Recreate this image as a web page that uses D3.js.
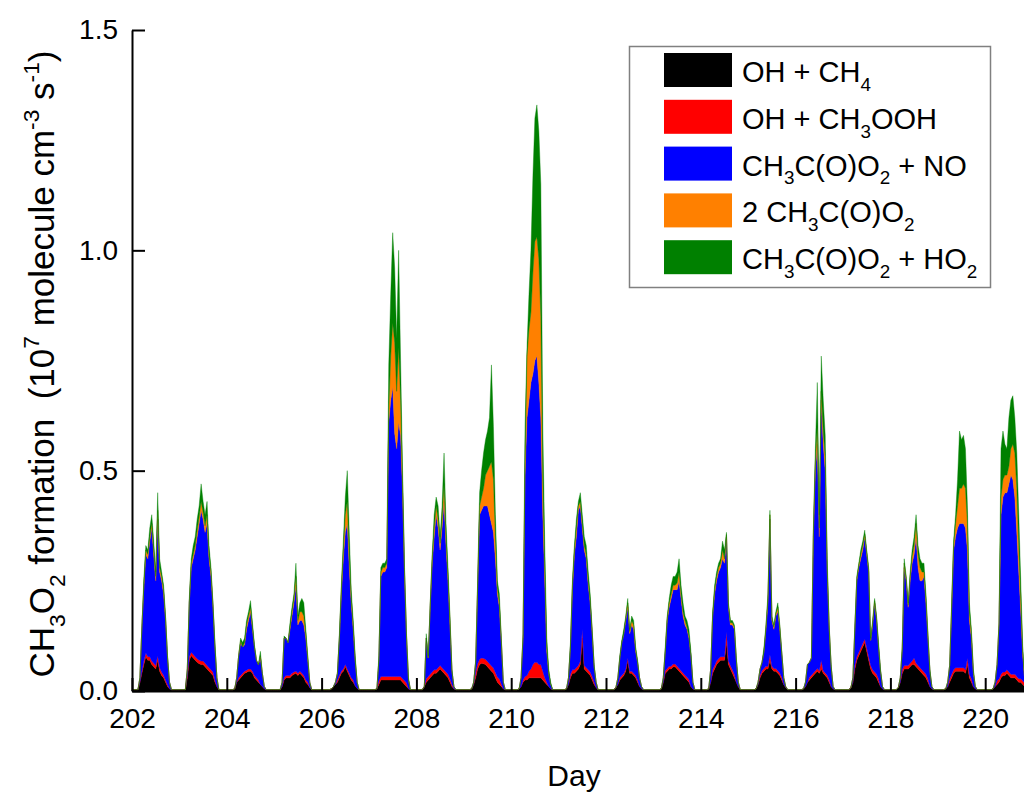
<!DOCTYPE html>
<html>
<head>
<meta charset="utf-8">
<script src="https://cdn.jsdelivr.net/npm/d3@7"></script>
<style>
  body { margin: 0; background: #fff; }
  text { font-family: Arial, "Liberation Sans", sans-serif; fill: #000; white-space: pre; }
</style>
</head>
<body>
<div id="chart"></div>
<script>
// one row per day, 24 hourly values, in 10^7 molecule cm-3 s-1
const days = d3.range(202, 221);

const ohCh4 = [
  [.003,.003,.003,.003,.02,.04,.06,.078,.07,.07,.06,.055,.05,.07,.045,.035,.03,.02,.01,.005,.003,.003,.003,.003],
  [.003,.003,.003,.003,.03,.07,.08,.075,.07,.065,.062,.06,.06,.055,.05,.045,.04,.035,.02,.01,.003,.003,.003,.003],
  [.003,.003,.003,.003,.005,.02,.025,.03,.035,.04,.042,.045,.045,.04,.03,.025,.02,.015,.01,.005,.003,.003,.003,.003],
  [.003,.003,.003,.003,.01,.025,.03,.03,.03,.035,.038,.04,.035,.04,.035,.03,.02,.015,.008,.003,.003,.003,.003,.003],
  [.003,.003,.003,.003,.003,.005,.01,.015,.02,.03,.04,.045,.055,.045,.035,.025,.02,.012,.006,.003,.003,.003,.003,.003],
  [.003,.003,.003,.003,.005,.015,.025,.025,.025,.025,.025,.025,.025,.025,.025,.025,.025,.02,.015,.01,.005,.003,.003,.003],
  [.003,.003,.003,.003,.01,.02,.025,.03,.035,.04,.04,.045,.05,.045,.04,.035,.03,.02,.01,.005,.003,.003,.003,.003],
  [.003,.003,.003,.003,.005,.015,.03,.05,.06,.063,.062,.06,.055,.05,.045,.04,.03,.02,.015,.01,.005,.003,.003,.003],
  [.003,.003,.003,.003,.005,.01,.02,.025,.025,.03,.03,.03,.03,.03,.03,.03,.025,.02,.015,.01,.005,.003,.003,.003],
  [.003,.003,.003,.003,.005,.015,.03,.04,.04,.045,.05,.06,.12,.05,.045,.04,.035,.025,.015,.008,.003,.003,.003,.003],
  [.003,.003,.003,.003,.003,.008,.015,.025,.03,.035,.045,.07,.04,.04,.035,.03,.02,.01,.005,.003,.003,.003,.003,.003],
  [.003,.003,.003,.003,.005,.02,.04,.045,.05,.05,.055,.055,.05,.045,.04,.035,.03,.025,.02,.01,.005,.003,.003,.003],
  [.003,.003,.003,.003,.005,.02,.04,.05,.06,.065,.07,.07,.07,.11,.06,.05,.04,.03,.02,.01,.003,.003,.003,.003],
  [.003,.003,.003,.003,.005,.015,.03,.04,.045,.05,.05,.07,.05,.045,.045,.04,.035,.025,.015,.008,.003,.003,.003,.003],
  [.003,.003,.003,.003,.005,.01,.02,.025,.03,.035,.04,.045,.04,.05,.04,.035,.03,.02,.01,.005,.003,.003,.003,.003],
  [.003,.003,.003,.003,.008,.02,.05,.07,.08,.09,.1,.11,.09,.07,.05,.04,.035,.03,.02,.01,.005,.003,.003,.003],
  [.003,.003,.003,.003,.008,.02,.04,.05,.05,.05,.055,.06,.06,.055,.05,.045,.04,.035,.03,.02,.01,.005,.003,.003],
  [.003,.003,.003,.003,.005,.01,.02,.03,.04,.045,.045,.045,.045,.045,.04,.06,.03,.02,.01,.005,.003,.003,.003,.003],
  [.003,.003,.003,.003,.005,.01,.015,.02,.03,.035,.035,.04,.035,.03,.03,.03,.025,.02,.02,.015,.01,.005,.005,.005]
];

const ohCh3ooh = [
  [0,0,0,0,0,.005,.008,.008,.008,.008,.008,.008,.008,.01,.008,.008,.006,.005,.004,0,0,0,0,0],
  [0,0,0,0,.005,.008,.008,.008,.008,.008,.008,.008,.008,.008,.008,.008,.008,.008,.005,0,0,0,0,0],
  [0,0,0,0,0,0,.005,.005,.005,.005,.005,.005,.005,.005,.005,.005,.005,0,0,0,0,0,0,0],
  [0,0,0,0,0,.005,.005,.005,.005,.005,.005,.005,.005,.005,.005,.005,.005,.005,0,0,0,0,0,0],
  [0,0,0,0,0,0,0,0,.005,.005,.005,.005,.005,.005,.005,.005,.005,0,0,0,0,0,0,0],
  [0,0,0,0,0,.008,.008,.008,.008,.008,.008,.008,.008,.008,.008,.008,.008,.008,.008,.008,0,0,0,0],
  [0,0,0,0,0,.008,.008,.008,.008,.008,.008,.008,.008,.008,.008,.008,.008,.008,.005,0,0,0,0,0],
  [0,0,0,0,0,0,.012,.012,.012,.012,.012,.012,.012,.012,.012,.012,.012,.012,.012,.006,0,0,0,0],
  [0,0,0,0,0,0,.005,.008,.01,.015,.02,.03,.035,.035,.03,.03,.02,.01,.005,0,0,0,0,0],
  [0,0,0,0,0,0,.008,.008,.008,.008,.008,.008,.02,.008,.008,.008,.008,.008,.005,0,0,0,0,0],
  [0,0,0,0,0,0,0,.005,.005,.005,.005,.005,.005,.005,.005,.005,.005,0,0,0,0,0,0,0],
  [0,0,0,0,0,0,.006,.006,.006,.006,.006,.006,.006,.006,.006,.006,.006,.006,.006,0,0,0,0,0],
  [0,0,0,0,0,0,.008,.008,.008,.008,.008,.008,.008,.025,.008,.008,.008,.008,0,0,0,0,0,0],
  [0,0,0,0,0,0,.006,.006,.006,.006,.006,.012,.006,.006,.006,.006,.006,.006,0,0,0,0,0,0],
  [0,0,0,0,0,0,0,.006,.006,.006,.006,.006,.006,.02,.006,.006,.006,.006,0,0,0,0,0,0],
  [0,0,0,0,0,0,.008,.008,.008,.008,.008,.008,.008,.008,.008,.008,.008,.008,.008,0,0,0,0,0],
  [0,0,0,0,0,0,.008,.008,.008,.008,.008,.008,.015,.008,.008,.008,.008,.008,.008,.008,0,0,0,0],
  [0,0,0,0,0,0,.008,.008,.008,.008,.008,.008,.008,.008,.008,.015,.008,.008,0,0,0,0,0,0],
  [0,0,0,0,0,0,.008,.008,.008,.008,.008,.008,.008,.008,.008,.008,.008,.008,.008,.008,.008,0,0,0]
];

const acylNo = [
  [0,0,0,0,.01,.1,.167,.224,.222,.262,.302,.247,.192,.31,.217,.207,.184,.135,.061,.015,0,0,0,0],
  [0,0,0,0,.015,.122,.192,.217,.242,.277,.31,.342,.322,.297,.322,.247,.212,.147,.075,.02,0,0,0,0],
  [0,0,0,0,0,.01,.05,.075,.06,.06,.093,.11,.13,.095,.065,.04,.035,.06,.03,.005,0,0,0,0],
  [0,0,0,0,.01,.09,.085,.075,.105,.13,.157,.195,.11,.115,.12,.115,.095,.05,.012,0,0,0,0,0],
  [0,0,0,0,0,0,0,.005,.015,.085,.175,.25,.3,.33,.24,.17,.115,.058,.014,0,0,0,0,0],
  [0,0,0,0,0,.047,.227,.237,.237,.247,.577,.627,.657,.552,.517,.577,.547,.422,.237,.102,.02,0,0,0],
  [0,0,0,0,0,.092,.042,.152,.247,.302,.352,.317,.262,.317,.382,.287,.212,.122,.03,.005,0,0,0,0],
  [0,0,0,0,0,.005,.023,.168,.328,.335,.346,.348,.353,.338,.323,.308,.258,.188,.163,.094,.015,0,0,0],
  [0,0,0,0,0,.02,.095,.457,.585,.615,.65,.66,.685,.695,.64,.56,.355,.22,.07,.03,.01,0,0,0],
  [0,0,0,0,0,.015,.062,.182,.262,.297,.352,.352,.23,.262,.247,.192,.157,.097,.035,.012,0,0,0,0],
  [0,0,0,0,0,0,.015,.045,.075,.09,.11,.115,.085,.105,.1,.055,.04,.02,.005,0,0,0,0,0],
  [0,0,0,0,0,.01,.044,.109,.134,.154,.169,.169,.174,.199,.164,.129,.114,.109,.094,.07,.015,0,0,0],
  [0,0,0,0,0,.03,.122,.162,.182,.197,.202,.222,.212,.215,.122,.092,.102,.102,.05,.01,0,0,0,0],
  [0,0,0,0,0,.005,.014,.019,.039,.084,.144,.308,.104,.089,.119,.134,.099,.054,.015,.002,0,0,0,0],
  [0,0,0,0,0,.01,.04,.034,.039,.309,.454,.509,.304,.59,.514,.459,.234,.114,.045,.005,0,0,0,0],
  [0,0,0,0,0,.01,.082,.172,.192,.202,.212,.232,.212,.192,.057,.102,.157,.122,.072,.035,.005,0,0,0],
  [0,0,0,0,0,.01,.047,.222,.192,.132,.187,.222,.235,.287,.222,.197,.202,.217,.162,.092,.035,.005,0,0],
  [0,0,0,0,0,.01,.03,.142,.272,.297,.317,.327,.327,.327,.322,.245,.122,.092,.03,.005,0,0,0,0],
  [0,0,0,0,0,.01,.037,.122,.362,.397,.407,.402,.427,.452,.442,.402,.327,.242,.152,.057,.007,0,0,0]
];

const acylAcyl = [
  [0,0,0,0,0,0,.005,.01,.01,.01,.01,.01,.01,.02,.01,.01,.01,.005,0,0,0,0,0,0],
  [0,0,0,0,0,0,.01,.01,.01,.015,.015,.02,.015,.015,.02,.01,.01,.005,0,0,0,0,0,0],
  [0,0,0,0,0,0,0,.005,0,.005,.01,.01,.01,.005,0,0,0,.005,0,0,0,0,0,0],
  [0,0,0,0,0,0,0,0,.005,.01,.01,.02,.01,.02,.02,.02,.01,.005,0,0,0,0,0,0],
  [0,0,0,0,0,0,0,0,0,0,.01,.02,.04,.05,.03,.01,.01,0,0,0,0,0,0,0],
  [0,0,0,0,0,0,.01,.01,.01,.01,.03,.1,.145,.205,.13,.17,.08,.02,.01,.005,0,0,0,0],
  [0,0,0,0,0,0,0,.005,.01,.02,.02,.02,.015,.02,.04,.02,.01,.01,0,0,0,0,0,0],
  [0,0,0,0,0,0,0,.01,.02,.03,.04,.07,.08,.11,.14,.12,.05,.015,.01,.005,0,0,0,0],
  [0,0,0,0,0,0,.005,.03,.14,.16,.16,.23,.27,.27,.28,.23,.08,.03,.01,0,0,0,0,0],
  [0,0,0,0,0,0,0,.01,.01,.02,.01,.01,.01,.01,.01,.01,.005,.005,0,0,0,0,0,0],
  [0,0,0,0,0,0,0,0,0,0,.005,.01,.005,.01,.01,.005,0,0,0,0,0,0,0,0],
  [0,0,0,0,0,0,0,.005,.01,.01,.01,.01,.015,.02,.01,.01,.01,.005,.005,0,0,0,0,0],
  [0,0,0,0,0,0,0,.01,.01,.01,.01,.02,.01,.005,.005,.005,.005,.005,0,0,0,0,0,0],
  [0,0,0,0,0,0,0,0,0,.005,.01,.01,.005,.005,.005,.01,.005,0,0,0,0,0,0,0],
  [0,0,0,0,0,0,0,0,0,.01,.02,.04,.02,.02,.03,.03,.01,.005,0,0,0,0,0,0],
  [0,0,0,0,0,0,0,.005,.005,.01,.01,.005,.005,.005,0,.005,.005,.005,0,0,0,0,0,0],
  [0,0,0,0,0,0,0,.01,.005,.005,.01,.015,.02,.03,.03,.03,.02,.01,.01,.005,0,0,0,0],
  [0,0,0,0,0,0,0,.01,.01,.03,.05,.08,.08,.09,.09,.06,.02,.01,.005,0,0,0,0,0],
  [0,0,0,0,0,0,0,.005,.04,.04,.04,.04,.04,.06,.08,.1,.1,.06,.03,.01,0,0,0,0]
];

const acylHo2 = [
  [0,0,0,0,0,0,.015,.01,.01,.02,.02,.02,.01,.04,.02,.01,.01,.005,.005,0,0,0,0,0],
  [0,0,0,0,0,.01,.01,.02,.02,.025,.025,.04,.025,.025,.03,.02,.01,.005,.01,0,0,0,0,0],
  [0,0,0,0,0,0,0,.005,.01,.01,.01,.01,.015,.01,.005,0,0,.01,0,0,0,0,0,0],
  [0,0,0,0,0,.005,0,0,.01,.01,.01,.03,.01,.02,.03,.03,.01,.005,0,0,0,0,0,0],
  [0,0,0,0,0,0,0,0,0,.01,.01,.02,.04,.07,.05,.02,.01,.01,0,0,0,0,0,0],
  [0,0,0,0,0,.01,.01,.01,.01,.01,.1,.14,.205,.17,.12,.22,.09,.03,.01,.005,.005,0,0,0],
  [0,0,0,0,0,.01,.005,.005,.01,.03,.02,.03,.015,.03,.07,.03,.02,.01,.005,0,0,0,0,0],
  [0,0,0,0,0,0,.005,.01,.03,.06,.08,.08,.09,.11,.22,.12,.05,.015,.02,.005,0,0,0,0],
  [0,0,0,0,0,0,.005,.08,.02,.08,.14,.22,.28,.3,.29,.3,.12,.05,.02,.01,.005,0,0,0],
  [0,0,0,0,0,0,.01,.01,.01,.02,.01,.02,.02,.02,.02,.02,.015,.005,.005,0,0,0,0,0],
  [0,0,0,0,0,0,0,.005,.005,.01,.005,.01,.005,.01,.01,.005,.005,0,0,0,0,0,0,0],
  [0,0,0,0,0,0,.01,.005,.01,.02,.02,.02,.025,.03,.02,.02,.01,.015,.015,.01,0,0,0,0],
  [0,0,0,0,0,0,.01,.01,.01,.01,.01,.02,.02,.005,.005,.005,.005,.005,.005,0,0,0,0,0],
  [0,0,0,0,0,0,0,0,.01,.005,.01,.01,.005,.005,.005,.01,.005,.005,0,0,0,0,0,0],
  [0,0,0,0,0,0,0,0,0,.01,.03,.1,.03,.08,.07,.05,.02,.005,.005,0,0,0,0,0],
  [0,0,0,0,0,0,.01,.005,.005,.01,.01,.01,.005,.005,.005,.005,.005,.005,.01,.005,0,0,0,0],
  [0,0,0,0,0,0,.005,.01,.005,.005,.01,.015,.02,.02,.02,.02,.02,.02,.01,.005,.005,0,0,0],
  [0,0,0,0,0,0,0,.01,.01,.02,.06,.13,.11,.11,.09,.04,.02,.01,.005,0,0,0,0,0],
  [0,0,0,0,0,0,0,0,.11,.11,.07,.06,.11,.11,.11,.08,.08,.07,.04,.01,.005,0,0,0]
];

const keys = ['ohCh4', 'ohCh3ooh', 'acylNo', 'acylAcyl', 'acylHo2'];
const colors = ['#000000', '#ff0000', '#0000ff', '#ff8000', '#008000'];
const legendLabels = [
  [['OH + CH'], ['4', 'sub']],
  [['OH + CH'], ['3', 'sub'], ['OOH']],
  [['CH'], ['3', 'sub'], ['C(O)O'], ['2', 'sub'], [' + NO']],
  [['2 CH'], ['3', 'sub'], ['C(O)O'], ['2', 'sub']],
  [['CH'], ['3', 'sub'], ['C(O)O'], ['2', 'sub'], [' + HO'], ['2', 'sub']]
];
const yTitle = [['CH'], ['3', 'sub'], ['O'], ['2', 'sub'], [' formation  (10'], ['7', 'sup'],
  [' molecule cm'], ['-3', 'sup'], [' s'], ['-1', 'sup'], [')']];
const xTicks = d3.range(202, 221, 2);
const yTicks = [0, 0.5, 1.0, 1.5];

const width = 1024;
const height = 793;
const plotLeft = 132, plotTop = 30, plotBottom = 691;
const dayWidth = 47.4;

const xScale = d3.scaleLinear().domain([202, 221]).range([plotLeft, plotLeft + 19 * dayWidth]);
const yScale = d3.scaleLinear().domain([0, 1.5]).range([plotBottom, plotTop]);

const seriesData = [ohCh4, ohCh3ooh, acylNo, acylAcyl, acylHo2];
const table = [];
days.forEach((d, i) => {
  for (let h = 0; h < 24; h++) {
    const row = { t: d + h / 24 };
    keys.forEach((k, j) => { row[k] = seriesData[j][i][h]; });
    table.push(row);
  }
});

const stacked = d3.stack().keys(keys)(table);

const svg = d3.select('#chart').append('svg')
  .attr('width', width)
  .attr('height', height);

svg.append('rect').attr('width', width).attr('height', height).attr('fill', '#fff');

const area = d3.area()
  .x(d => xScale(d.data.t))
  .y0(d => yScale(d[0]))
  .y1(d => yScale(d[1]));

svg.append('g')
  .selectAll('path')
  .data(stacked)
  .join('path')
  .attr('fill', (d, i) => colors[i])
  .attr('stroke', (d, i) => colors[i])
  .attr('stroke-width', 0.4)
  .attr('d', area);

// axes
const xAxis = d3.axisBottom(xScale)
  .tickValues(xTicks)
  .tickFormat(d3.format('d'))
  .tickSizeInner(-13)
  .tickSizeOuter(0)
  .tickPadding(17);

const yAxis = d3.axisLeft(yScale)
  .tickValues(yTicks)
  .tickFormat(d3.format('.1f'))
  .tickSizeInner(-13)
  .tickSizeOuter(0)
  .tickPadding(14);

const xAxisG = svg.append('g')
  .attr('transform', `translate(0,${plotBottom})`)
  .call(xAxis);

const yAxisG = svg.append('g')
  .attr('transform', `translate(${plotLeft},0)`)
  .call(yAxis);

[xAxisG, yAxisG].forEach(g => {
  g.select('.domain').attr('stroke', '#000').attr('stroke-width', 2);
  g.selectAll('.tick line').attr('stroke', '#000').attr('stroke-width', 2);
  g.selectAll('.tick text').attr('font-size', 28).attr('font-family', 'Arial, "Liberation Sans", sans-serif').attr('fill', '#000');
});

function richText(sel, parts, size) {
  let shift = 0;
  parts.forEach(([txt, kind]) => {
    let target = 0;
    if (kind === 'sub') target = size * 0.3;
    if (kind === 'sup') target = -size * 0.42;
    sel.append('tspan')
      .attr('dy', target - shift)
      .attr('font-size', kind ? size * 0.65 : size)
      .text(txt);
    shift = target;
  });
}

svg.append('text')
  .attr('x', 574)
  .attr('y', 786)
  .attr('text-anchor', 'middle')
  .attr('font-size', 30)
  .text('Day');

const yTitleText = svg.append('text')
  .attr('transform', 'translate(54,364) rotate(-90)')
  .attr('text-anchor', 'middle')
  .attr('font-size', 35);
richText(yTitleText, yTitle, 35);

// legend
const legend = svg.append('g');
legend.append('rect')
  .attr('x', 629.5)
  .attr('y', 46.5)
  .attr('width', 361)
  .attr('height', 241)
  .attr('fill', '#fff')
  .attr('stroke', '#808080')
  .attr('stroke-width', 1.5);

const rowStep = 46.8;
legendLabels.forEach((parts, i) => {
  const top = 53 + i * rowStep;
  legend.append('rect')
    .attr('x', 664)
    .attr('y', top)
    .attr('width', 68)
    .attr('height', 34)
    .attr('fill', colors[i]);
  const t = legend.append('text')
    .attr('x', 742)
    .attr('y', top + 29)
    .attr('font-size', 29);
  richText(t, parts, 29);
});
</script>
</body>
</html>
